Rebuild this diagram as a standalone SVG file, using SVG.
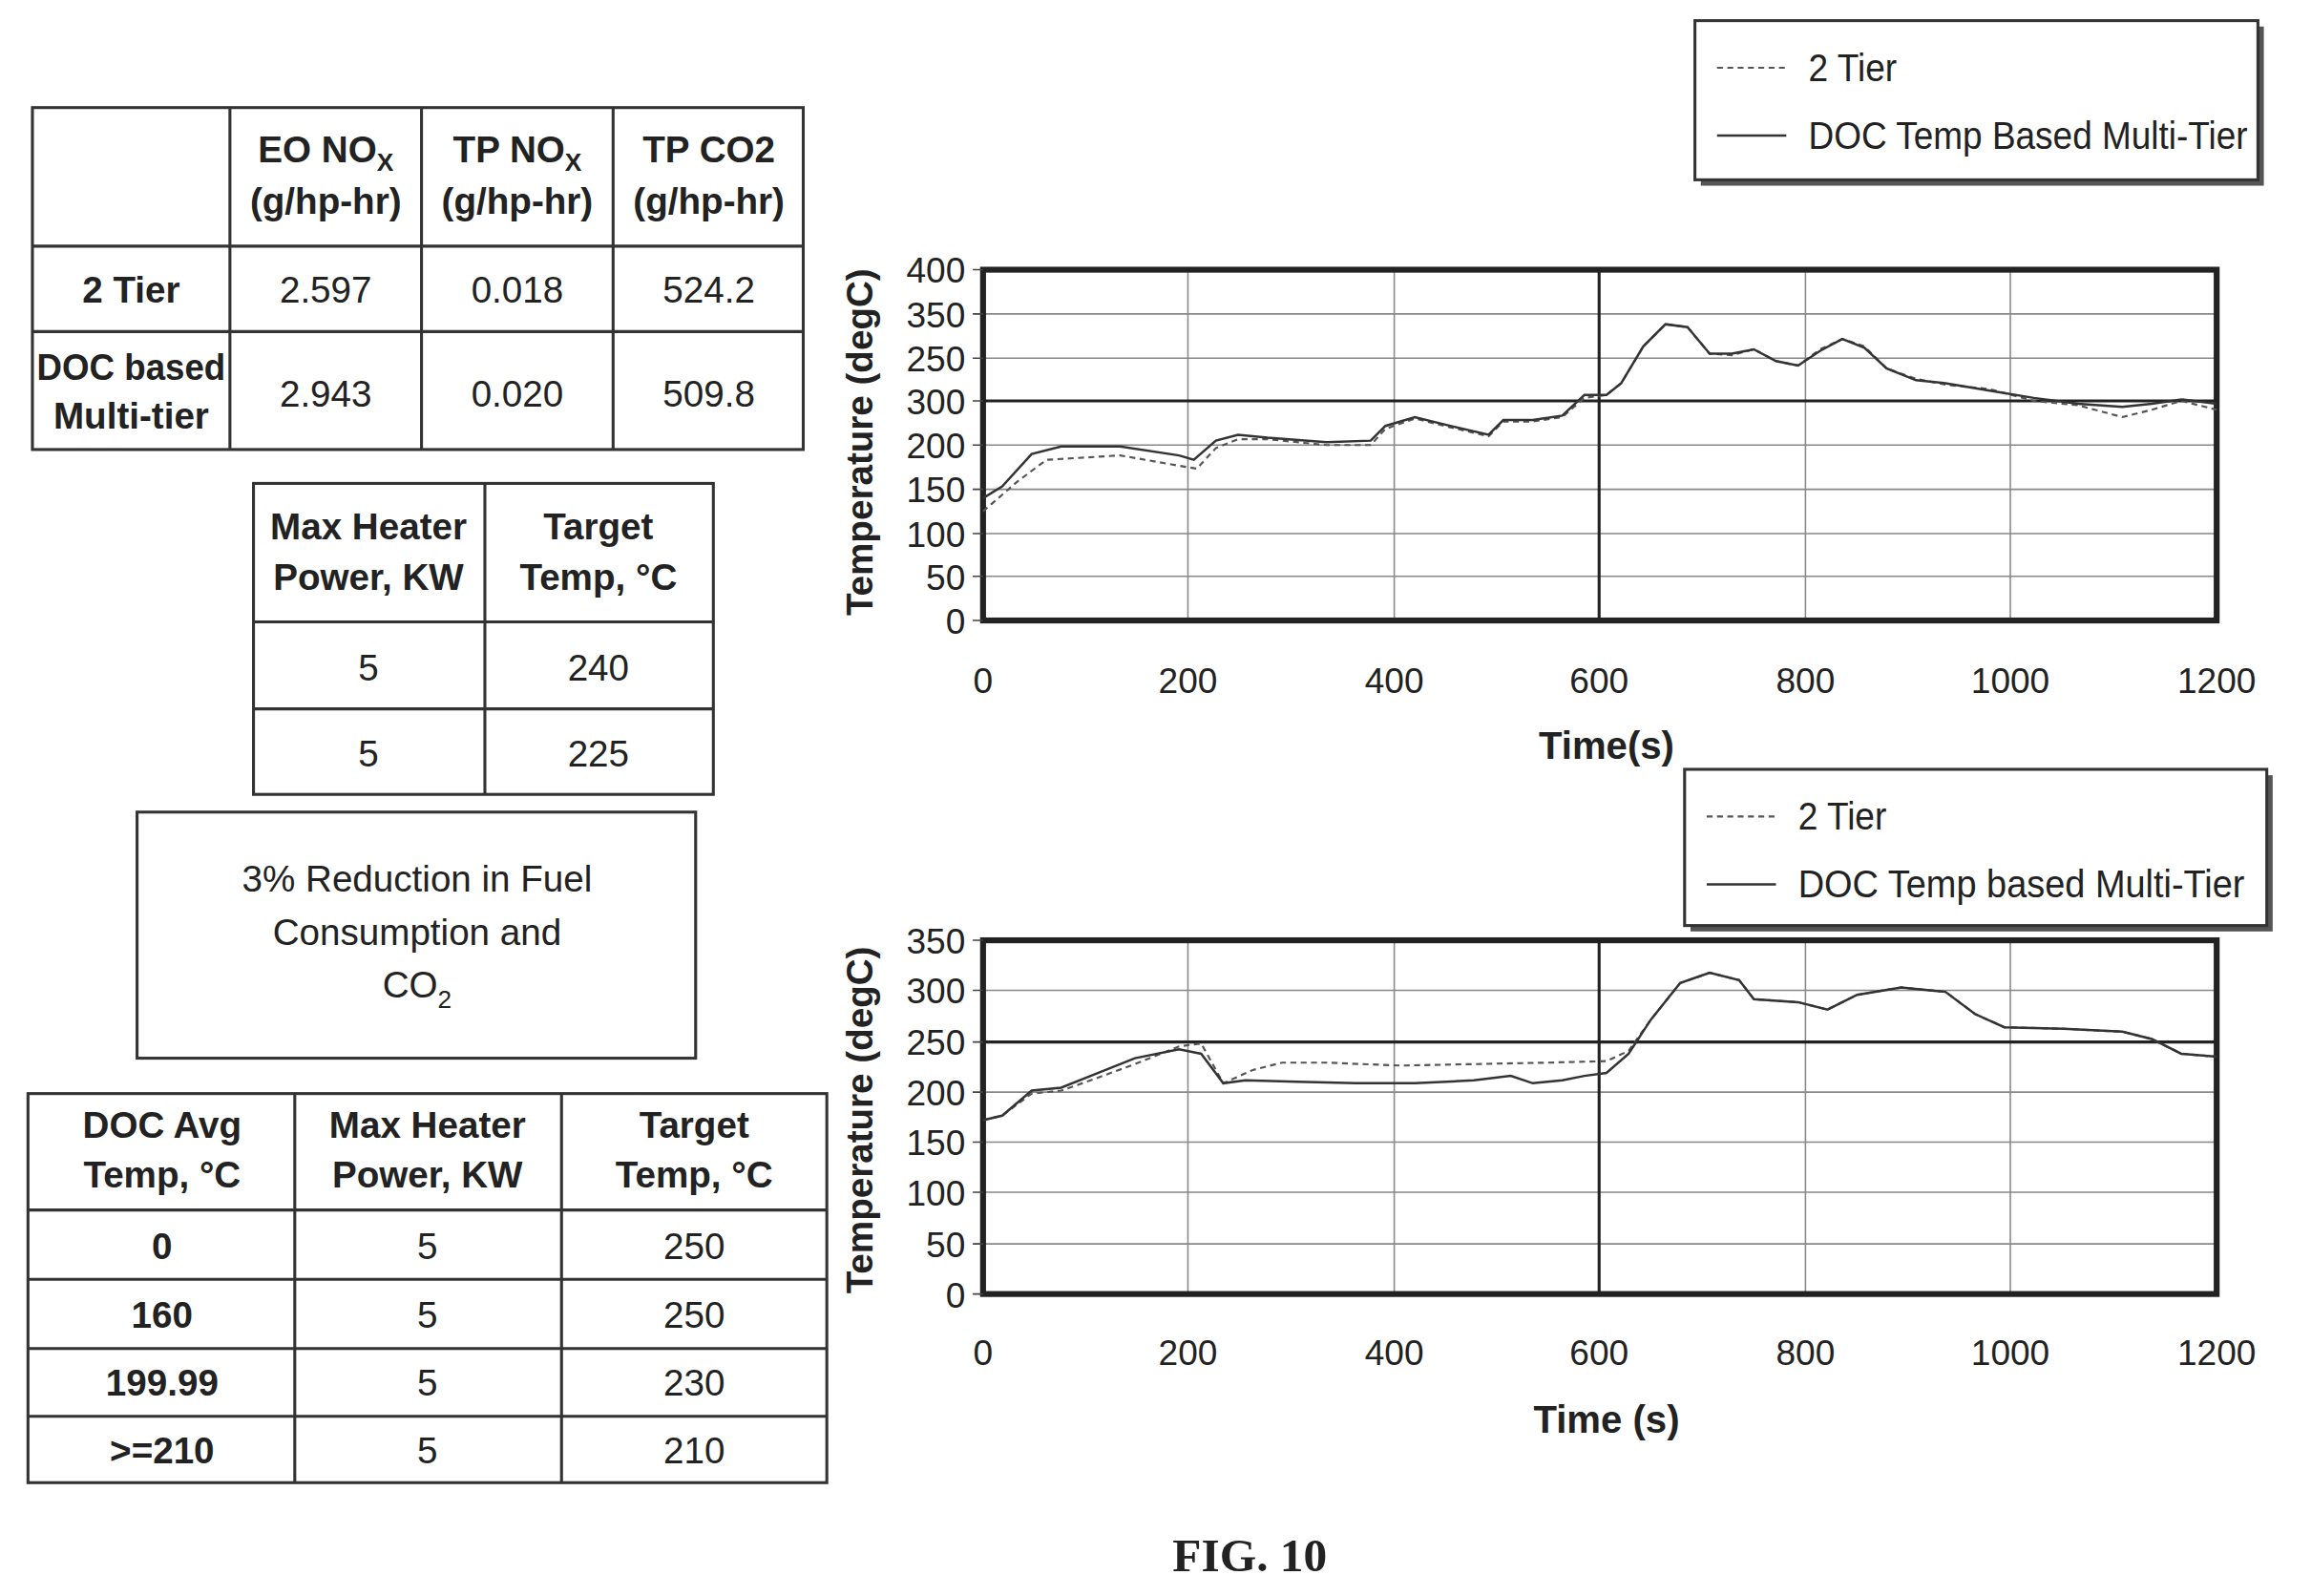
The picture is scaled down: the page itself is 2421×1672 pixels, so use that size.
<svg xmlns="http://www.w3.org/2000/svg" width="2421" height="1672" viewBox="0 0 2421 1672">
<style>
text{font-family:"Liberation Sans",Arial,sans-serif;fill:#222}
.b{font-weight:bold}
.c{text-anchor:middle}
.cell{fill:#fff;stroke:#333;stroke-width:2}
.tk{font-size:24px;text-anchor:middle}
.yl{font-size:24px;text-anchor:end}
.g{stroke:#888;stroke-width:1}
.gd{stroke:#222;stroke-width:2}
.s{fill:none;stroke:#333;stroke-width:1.6}
.d{fill:none;stroke:#555;stroke-width:1.4;stroke-dasharray:4 3}
</style>
<rect width="2421" height="1672" fill="#fff"/>
<g transform="scale(1.544)">
<g id="table1">
<rect class="cell" x="22" y="73" width="523" height="232"/>
<path d="M156 73V305M286 73V305M416 73V305M22 167H545M22 225H545" stroke="#333" stroke-width="2"/>
<text class="b c" x="221" y="110" font-size="25">EO NO<tspan font-size="17" dy="6">X</tspan></text>
<text class="b c" x="221" y="145" font-size="25">(g/hp-hr)</text>
<text class="b c" x="351" y="110" font-size="25">TP NO<tspan font-size="17" dy="6">X</tspan></text>
<text class="b c" x="351" y="145" font-size="25">(g/hp-hr)</text>
<text class="b c" x="481" y="110" font-size="25">TP CO2</text>
<text class="b c" x="481" y="145" font-size="25">(g/hp-hr)</text>
<text class="b c" x="89" y="205" font-size="25">2 Tier</text>
<text class="c" x="221" y="205" font-size="25">2.597</text>
<text class="c" x="351" y="205" font-size="25">0.018</text>
<text class="c" x="481" y="205" font-size="25">524.2</text>
<text class="b c" x="89" y="258" font-size="25" textLength="128" lengthAdjust="spacingAndGlyphs">DOC based</text>
<text class="b c" x="89" y="291" font-size="25">Multi-tier</text>
<text class="c" x="221" y="276" font-size="25">2.943</text>
<text class="c" x="351" y="276" font-size="25">0.020</text>
<text class="c" x="481" y="276" font-size="25">509.8</text>
</g>
<g id="table2">
<rect class="cell" x="172" y="328" width="312" height="211"/>
<path d="M329 328V539M172 422H484M172 481H484" stroke="#333" stroke-width="2"/>
<text class="b c" x="250" y="366" font-size="25">Max Heater</text>
<text class="b c" x="250" y="400" font-size="25">Power, KW</text>
<text class="b c" x="406" y="366" font-size="25">Target</text>
<text class="b c" x="406" y="400" font-size="25">Temp, °C</text>
<text class="c" x="250" y="462" font-size="25">5</text>
<text class="c" x="406" y="462" font-size="25">240</text>
<text class="c" x="250" y="520" font-size="25">5</text>
<text class="c" x="406" y="520" font-size="25">225</text>
</g>
<g id="note">
<rect class="cell" x="93" y="551" width="379" height="167"/>
<text class="c" x="283" y="605" font-size="25">3% Reduction in Fuel</text>
<text class="c" x="283" y="641" font-size="25">Consumption and</text>
<text class="c" x="283" y="677" font-size="25">CO<tspan font-size="17" dy="7">2</tspan></text>
</g>
<g id="table3">
<rect class="cell" x="19" y="742" width="542" height="264"/>
<path d="M200 742V1006M381 742V1006M19 821H561M19 868H561M19 915H561M19 961H561" stroke="#333" stroke-width="2"/>
<text class="b c" x="110" y="772" font-size="25">DOC Avg</text>
<text class="b c" x="110" y="806" font-size="25">Temp, °C</text>
<text class="b c" x="290" y="772" font-size="25">Max Heater</text>
<text class="b c" x="290" y="806" font-size="25">Power, KW</text>
<text class="b c" x="471" y="772" font-size="25">Target</text>
<text class="b c" x="471" y="806" font-size="25">Temp, °C</text>
<text class="b c" x="110" y="854" font-size="25">0</text><text class="c" x="290" y="854" font-size="25">5</text><text class="c" x="471" y="854" font-size="25">250</text>
<text class="b c" x="110" y="901" font-size="25">160</text><text class="c" x="290" y="901" font-size="25">5</text><text class="c" x="471" y="901" font-size="25">250</text>
<text class="b c" x="110" y="947" font-size="25">199.99</text><text class="c" x="290" y="947" font-size="25">5</text><text class="c" x="471" y="947" font-size="25">230</text>
<text class="b c" x="110" y="993" font-size="25">&gt;=210</text><text class="c" x="290" y="993" font-size="25">5</text><text class="c" x="471" y="993" font-size="25">210</text>
</g>
<g id="chart1">
<path class="g" d="M667 213H1504M667 243H1504M667 302H1504M667 332H1504M667 362H1504M667 391H1504M806 183V421M946 183V421M1225 183V421M1364 183V421"/>
<path class="gd" d="M667 272H1504M1085 183V421"/>
<rect x="667" y="183" width="837" height="238" fill="none" stroke="#222" stroke-width="4"/>
<path d="M660 183H667M660 213H667M660 243H667M660 272H667M660 302H667M660 332H667M660 362H667M660 391H667M660 421H667" stroke="#444"/>
<text class="yl" x="655" y="192">400</text><text class="yl" x="655" y="222">350</text><text class="yl" x="655" y="252">250</text><text class="yl" x="655" y="281">300</text><text class="yl" x="655" y="311">200</text><text class="yl" x="655" y="341">150</text><text class="yl" x="655" y="371">100</text><text class="yl" x="655" y="400">50</text><text class="yl" x="655" y="430">0</text>
<text class="tk" x="667" y="470">0</text><text class="tk" x="806" y="470">200</text><text class="tk" x="946" y="470">400</text><text class="tk" x="1085" y="470">600</text><text class="tk" x="1225" y="470">800</text><text class="tk" x="1364" y="470">1000</text><text class="tk" x="1504" y="470">1200</text>
<text class="b c" x="1090" y="515" font-size="26">Time(s)</text>
<text class="b c" font-size="25" transform="translate(592,300) rotate(-90)">Temperature (degC)</text>
<polyline class="d" points="667,347 690,327 710,312 760,309 800,316 812,318 825,304 840,298 860,298 900,302 930,302 940,291 960,284 980,289 1010,296 1020,286 1040,286 1060,283 1075,270 1090,268 1100,260 1115,235 1130,220 1145,222 1160,240 1175,241 1190,237 1205,245 1220,248 1235,237 1250,230 1265,235 1280,250 1300,257 1320,261 1350,264 1380,272 1410,275 1440,283 1460,278 1480,272 1504,278"/>
<polyline class="s" points="667,338 680,330 700,308 720,303 760,303 800,309 810,312 825,299 840,295 860,297 900,300 930,299 940,289 960,283 980,288 1010,295 1020,285 1040,285 1060,282 1075,268 1090,268 1100,260 1115,235 1130,220 1145,222 1160,240 1175,240 1190,237 1205,245 1220,248 1235,238 1250,230 1265,236 1280,250 1300,258 1320,260 1350,265 1380,270 1410,274 1440,276 1460,274 1480,271 1504,274"/>
</g>
<g id="legend1">
<rect x="1154" y="18" width="382" height="108" fill="#555"/>
<rect x="1150" y="14" width="382" height="108" fill="#fff" stroke="#333" stroke-width="2"/>
<line x1="1165" y1="46" x2="1212" y2="46" class="d"/>
<line x1="1165" y1="92" x2="1212" y2="92" class="s"/>
<text x="1227" y="55" font-size="26" textLength="60" lengthAdjust="spacingAndGlyphs">2 Tier</text>
<text x="1227" y="101" font-size="26" textLength="298" lengthAdjust="spacingAndGlyphs">DOC Temp Based Multi-Tier</text>
</g>
<g id="chart2">
<path class="g" d="M667 672H1504M667 741H1504M667 775H1504M667 809H1504M667 844H1504M806 638V878M946 638V878M1225 638V878M1364 638V878"/>
<path class="gd" d="M667 707H1504M1085 638V878"/>
<rect x="667" y="638" width="837" height="240" fill="none" stroke="#222" stroke-width="4"/>
<path d="M660 638H667M660 672H667M660 707H667M660 741H667M660 775H667M660 809H667M660 844H667M660 878H667" stroke="#444"/>
<text class="yl" x="655" y="647">350</text><text class="yl" x="655" y="681">300</text><text class="yl" x="655" y="716">250</text><text class="yl" x="655" y="750">200</text><text class="yl" x="655" y="784">150</text><text class="yl" x="655" y="818">100</text><text class="yl" x="655" y="853">50</text><text class="yl" x="655" y="887">0</text>
<text class="tk" x="667" y="926">0</text><text class="tk" x="806" y="926">200</text><text class="tk" x="946" y="926">400</text><text class="tk" x="1085" y="926">600</text><text class="tk" x="1225" y="926">800</text><text class="tk" x="1364" y="926">1000</text><text class="tk" x="1504" y="926">1200</text>
<text class="b c" x="1090" y="972" font-size="26">Time (s)</text>
<text class="b c" font-size="25" transform="translate(592,760) rotate(-90)">Temperature (degC)</text>
<polyline class="d" points="667,760 680,757 700,742 720,740 740,733 770,722 800,710 815,708 830,735 850,726 870,721 900,721 950,723 1000,722 1050,721 1090,720 1105,713 1120,692 1140,667 1160,660 1180,665 1190,678 1220,680 1240,685 1260,675 1290,670 1320,673 1340,688 1360,697 1400,698 1440,700 1460,705 1480,715 1504,717"/>
<polyline class="s" points="667,760 680,757 700,740 720,738 740,730 770,718 800,712 815,715 830,735 845,733 880,734 920,735 960,735 1000,733 1025,730 1040,735 1060,733 1075,730 1090,728 1105,715 1120,692 1140,667 1160,660 1180,665 1190,678 1220,680 1240,685 1260,675 1290,670 1320,673 1340,688 1360,697 1400,698 1440,700 1460,705 1480,715 1504,717"/>
</g>
<g id="legend2">
<rect x="1147" y="526" width="395" height="106" fill="#555"/>
<rect x="1143" y="522" width="395" height="106" fill="#fff" stroke="#333" stroke-width="2"/>
<line x1="1158" y1="554" x2="1205" y2="554" class="d"/>
<line x1="1158" y1="600" x2="1205" y2="600" class="s"/>
<text x="1220" y="563" font-size="26" textLength="60" lengthAdjust="spacingAndGlyphs">2 Tier</text>
<text x="1220" y="609" font-size="26" textLength="303" lengthAdjust="spacingAndGlyphs">DOC Temp based Multi-Tier</text>
</g>
<text class="b c" x="848" y="1066" font-size="32" style="font-family:'Liberation Serif',serif">FIG. 10</text>
</g>
</svg>
